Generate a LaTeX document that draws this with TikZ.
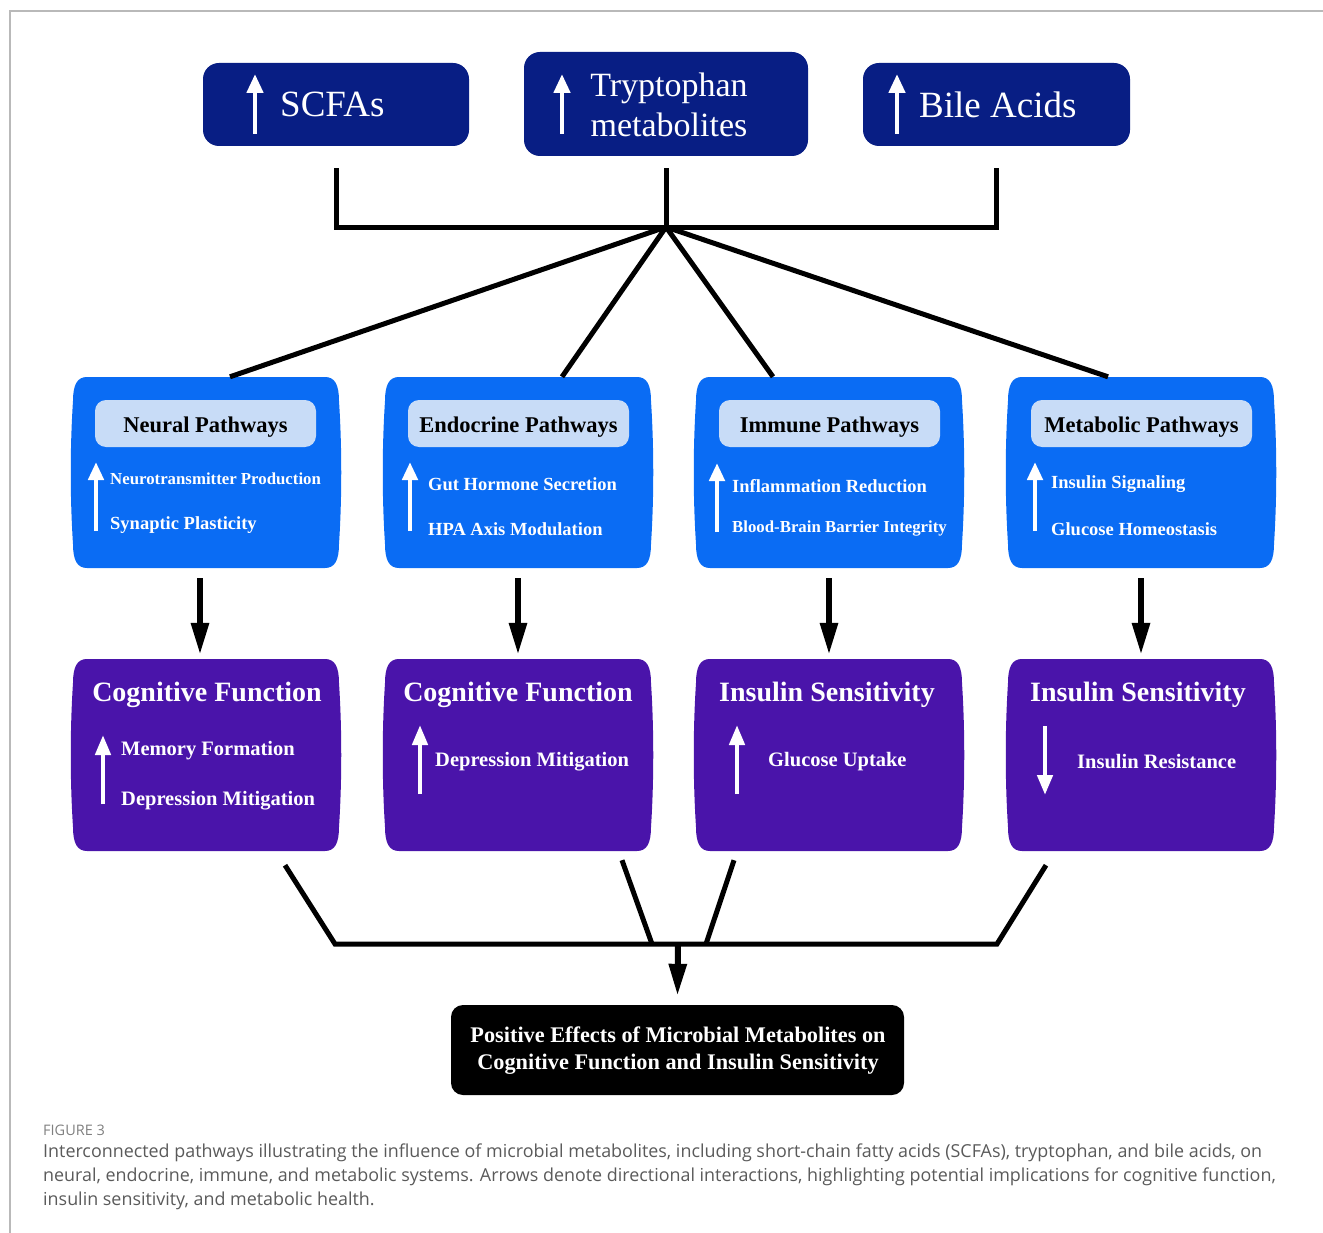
\documentclass[tikz,border=0pt]{standalone}
\usepackage{fontspec}
\setmainfont{Liberation Serif}
\newfontfamily\capfont{Open Sans}
\usetikzlibrary{arrows.meta,calc,fit}
\definecolor{navy}{RGB}{8,30,132}
\definecolor{pathblue}{RGB}{10,108,244}
\definecolor{labblue}{RGB}{200,220,247}
\definecolor{outpurple}{RGB}{74,20,170}
\definecolor{framegray}{RGB}{185,185,185}
\definecolor{capgray}{RGB}{90,90,90}
\newcommand\barrelbox[6]{%
  \fill[#6] (#2+14,#3) -- (#4-14,#3) .. controls (#4-4,#3) and (#4,#3+8) .. (#4,#3+24)
    .. controls (#4+3,#3+70) and (#4+3,#5-70) .. (#4,#5-24)
    .. controls (#4,#5-8) and (#4-4,#5) .. (#4-14,#5) -- (#2+14,#5)
    .. controls (#2+4,#5) and (#2,#5-8) .. (#2,#5-24)
    .. controls (#2-3,#5-70) and (#2-3,#3+70) .. (#2,#3+24)
    .. controls (#2,#3+8) and (#2+4,#3) .. (#2+14,#3) -- cycle;
  \node[fit={(#2,#3) (#4,#5)}, inner sep=0pt] (#1) {};}
\tikzset{
  topbox/.style={fill=navy, rounded corners=16pt, inner sep=0pt},
  toptext/.style={text=white, inner sep=0pt, font=\fontsize{37}{40}\selectfont},
  labbox/.style={fill=labblue, rounded corners=11pt, minimum width=221pt, minimum height=47pt, inner sep=0pt, text height=17pt, text depth=0pt, font=\bfseries\fontsize{22.5}{26}\selectfont},
  item/.style={text=white, inner sep=0pt, anchor=west, font=\bfseries\fontsize{18.5}{22}\selectfont},
  smallitem/.style={item, font=\bfseries\fontsize{16.8}{20}\selectfont},
  outtitle/.style={text=white, inner sep=0pt, font=\bfseries\fontsize{28}{32}\selectfont},
  outitem/.style={text=white, inner sep=0pt, anchor=west, font=\bfseries\fontsize{20.5}{24}\selectfont},
  wup/.style={draw=white, line width=4.5pt, -{Triangle[width=15pt,length=18pt]}},
  conn/.style={draw=black, line width=5pt},
  down/.style={draw=black, line width=6pt, -{Triangle[width=17pt,length=32pt]}},
  capline/.style={anchor=west, inner sep=0pt, text=capgray, font=\capfont\fontsize{17.9}{24}\selectfont},
}
\begin{document}
\begin{tikzpicture}[x=1pt,y=-1pt]
\useasboundingbox (0,0) rectangle (1323,1233);
% frame
\draw[framegray, line width=1.5pt] (10,1233) -- (10,11) -- (1323,11);

% top boxes
\node[topbox, fit={(203,63) (469,146)}] (scfa) {};
\node[topbox, fit={(524,52) (808,156)}] (tryp) {};
\node[topbox, fit={(863,63) (1130,146)}] (bile) {};
\draw[wup, -{Triangle[width=16pt,length=19pt]}] (255,134) -- (255,74);
\draw[wup, -{Triangle[width=16pt,length=19pt]}] (562,134) -- (562,74);
\draw[wup, -{Triangle[width=16pt,length=19pt]}] (897,134) -- (897,74);
\node[toptext, anchor=west] (scfatxt) at (280,104) {SCFAs};
\node[toptext, anchor=west] (biletxt) at (919,105) {Bile Acids};
\node[toptext, align=center, font=\fontsize{34}{40}\selectfont] (tryptxt) at (669,105) {Tryptophan\\metabolites};

% top connectors
\coordinate (hub) at (666,227);
\draw[conn] ($(scfa.south)+(0,22)$) -- ($(scfa.south)+(0,81)$) -- ($(bile.south)+(0,81)$) -- ($(bile.south)+(0,22)$);
\draw[conn] ($(tryp.south)+(0,12)$) -- (hub);

% pathway boxes
\barrelbox{neural}{73}{377}{339}{568}{pathblue}
\barrelbox{endo}{385}{377}{651}{568}{pathblue}
\barrelbox{immune}{696}{377}{962}{568}{pathblue}
\barrelbox{metab}{1008}{377}{1274}{568}{pathblue}

\draw[conn] (hub) -- ($(neural.north)+(24,0)$);
\draw[conn] (hub) -- ($(endo.north)+(44,0)$);
\draw[conn] (hub) -- ($(immune.north)+(-56,0)$);
\draw[conn] (hub) -- ($(metab.north)+(-33,0)$);

\node[labbox] (neurallab) at (205.5,423.5) {Neural Pathways};
\node[labbox] (endolab) at (518.5,423.5) {Endocrine Pathways};
\node[labbox] (immunelab) at (829.5,423.5) {Immune Pathways};
\node[labbox] (metablab) at (1141.5,423.5) {Metabolic Pathways};

\draw[wup] (96,531) -- (96,462);
\node[smallitem] (n1) at (110,479) {Neurotransmitter Production};
\node[item] (n2) at (110,525) {Synaptic Plasticity};
\draw[wup] (410,531) -- (410,462);
\node[item] (e1) at (428,484) {Gut Hormone Secretion};
\node[item] (e2) at (428,529) {HPA Axis Modulation};
\draw[wup] (717,532) -- (717,463);
\node[item] (i1) at (732,486) {Inflammation Reduction};
\node[smallitem] (i2) at (732,529) {Blood-Brain Barrier Integrity};
\draw[wup] (1035,531) -- (1035,462);
\node[item] (m1) at (1051,484) {Insulin Signaling};
\node[item] (m2) at (1051,529) {Glucose Homeostasis};

% outcome boxes
\barrelbox{cog1}{73}{659}{339}{851}{outpurple}
\barrelbox{cog2}{385}{659}{651}{851}{outpurple}
\barrelbox{ins1}{696}{659}{962}{851}{outpurple}
\barrelbox{ins2}{1008}{659}{1274}{851}{outpurple}

\draw[down] ($(neural.south)+(-6,10)$) -- ($(cog1.north)+(-6,-4)$);
\draw[down] ($(endo.south)+(0,10)$) -- ($(cog2.north)+(0,-4)$);
\draw[down] ($(immune.south)+(0,10)$) -- ($(ins1.north)+(0,-4)$);
\draw[down] ($(metab.south)+(0,10)$) -- ($(ins2.north)+(0,-4)$);

\node[outtitle] (cog1t) at (207,695) {Cognitive Function};
\node[outtitle] (cog2t) at (518,695) {Cognitive Function};
\node[outtitle] (ins1t) at (827,695) {Insulin Sensitivity};
\node[outtitle] (ins2t) at (1138,695) {Insulin Sensitivity};

\draw[wup, -{Triangle[width=15pt,length=20pt]}] (103,804) -- (103,735);
\node[outitem] (c1a) at (121,751) {Memory Formation};
\node[outitem] (c1b) at (121,801) {Depression Mitigation};
\draw[wup, -{Triangle[width=15pt,length=20pt]}] (420,794) -- (420,725);
\node[outitem] (c2a) at (435,762) {Depression Mitigation};
\draw[wup, -{Triangle[width=15pt,length=20pt]}] (737,794) -- (737,725);
\node[outitem] (s1a) at (768,762) {Glucose Uptake};
\draw[wup, -{Triangle[width=15pt,length=20pt]}] (1045,726) -- (1045,795);
\node[outitem] (s2a) at (1077,762) {Insulin Resistance};

% bottom connectors
\node[fill=black, rounded corners=12pt, fit={(451,1005) (904,1095)}, inner sep=0pt] (result) {};
\node[text=white, align=center, inner sep=0pt, font=\bfseries\fontsize{22.3}{27}\selectfont] (resulttxt) at (678,1051) {Positive Effects of Microbial Metabolites on\\Cognitive Function and Insulin Sensitivity};
\coordinate (jl) at (335,944);
\coordinate (jr) at (997,944);
\coordinate (jc) at (678,944);
\draw[conn] ($(cog1.south)+(79,14)$) -- (jl) -- (jr) -- ($(ins2.south)+(-95,14)$);
\draw[conn] ($(cog2.south)+(104,9)$) -- (652,944);
\draw[conn] ($(ins1.south)+(-95,9)$) -- (706,944);
\draw[down] (jc) -- ($(result.north)+(0,-9)$);

% caption
\node[anchor=west, inner sep=0pt, text=gray, font=\capfont\fontsize{14.5}{16}\selectfont] (fig) at (43,1130) {FIGURE 3};
\node[capline] (cap1) at (43,1153) {Interconnected pathways illustrating the influence of microbial metabolites, including short-chain fatty acids (SCFAs), tryptophan, and bile acids, on};
\node[capline] (cap2) at (43,1177) {neural, endocrine, immune, and metabolic systems. Arrows denote directional interactions, highlighting potential implications for cognitive function,};
\node[capline] (cap3) at (43,1201) {insulin sensitivity, and metabolic health.};
\end{tikzpicture}
\end{document}
